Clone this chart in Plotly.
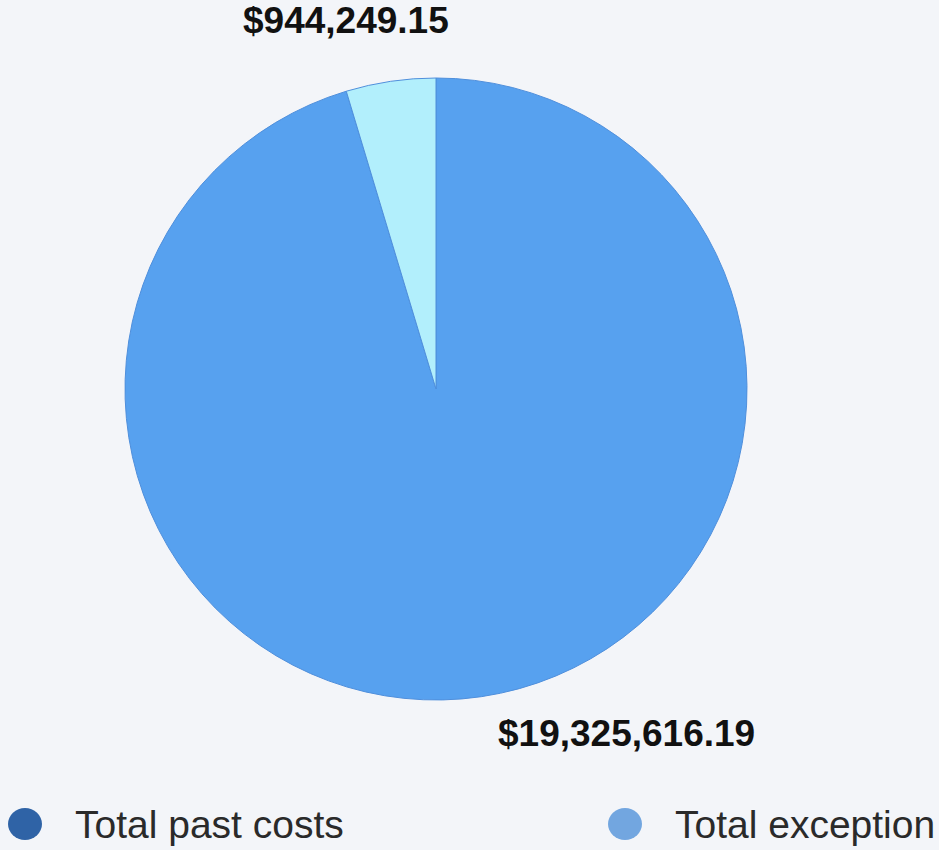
import plotly.graph_objects as go

# ---- data ----
categories = ["Total past costs", "Total exception"]
values = [19325616.19, 944249.15]
slice_colors = ["#57a1ef", "#b2effc"]
legend_colors = ["#2f63a6", "#72a6e0"]

W, H = 939, 850
fig = go.Figure()

fig.add_trace(go.Pie(
    labels=categories,
    values=values,
    sort=False,
    direction="clockwise",
    rotation=0,
    textinfo="none",
    hoverinfo="label+value",
    marker=dict(colors=slice_colors, line=dict(width=1, color="#4f8fdc")),
    showlegend=False,
    domain=dict(x=[125 / W, 747 / W], y=[150 / H, 772 / H]),
))

# value labels
label_pos = [(626, 733), (346, 21)]
for v, (px, py) in zip(values, label_pos):
    fig.add_annotation(
        x=px / W, y=1 - py / H, xref="paper", yref="paper",
        text="${:,.2f}".format(v), showarrow=False,
        xanchor="center", yanchor="middle",
        font=dict(family="Liberation Sans, Arial, sans-serif", size=37,
                  color="#111111", weight="bold"),
    )

# custom legend
legend_x = [25, 625]
legend_y = 824
for name, col, lx in zip(categories, legend_colors, legend_x):
    fig.add_shape(
        type="circle", xref="paper", yref="paper",
        x0=(lx - 17) / W, x1=(lx + 17) / W,
        y0=1 - (legend_y + 16) / H, y1=1 - (legend_y - 16) / H,
        fillcolor=col, line=dict(width=0),
    )
    fig.add_annotation(
        x=(lx + 48) / W, y=1 - legend_y / H, xref="paper", yref="paper",
        text=name, showarrow=False, xanchor="left", yanchor="middle",
        font=dict(family="Liberation Sans, Arial, sans-serif", size=39, color="#2a2a2a"),
    )

fig.update_layout(
    width=W, height=H,
    margin=dict(l=0, r=0, t=0, b=0),
    paper_bgcolor="#f3f5f9",
    plot_bgcolor="#f3f5f9",
)

fig.write_html(
    "out.html",
    config={"displayModeBar": False},
    post_script="document.body.style.margin='0';document.body.style.overflow='hidden';",
)
